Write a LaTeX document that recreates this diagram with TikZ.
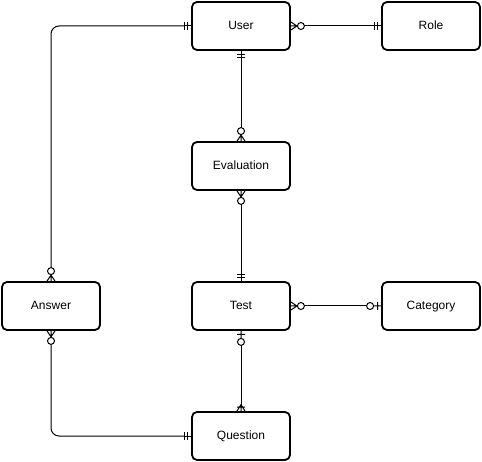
\documentclass[tikz,border=0pt]{standalone}
\usepackage{fontspec}
\setmainfont{Liberation Sans}
\usetikzlibrary{arrows.meta, positioning}

% crow's foot ends: zero-or-many, exactly one, zero-or-one, one-or-many
\pgfdeclarearrow{
  name = zmany,
  setup code = {
    \pgfarrowssettipend{0pt}
    \pgfarrowssetlineend{-13.5pt}
    \pgfarrowssetbackend{-13.5pt}
    \pgfarrowshullpoint{0pt}{4pt}
    \pgfarrowshullpoint{0pt}{-4pt}
    \pgfarrowshullpoint{-13.5pt}{0pt}
  },
  drawing code = {
    \pgfpathmoveto{\pgfqpoint{0pt}{4pt}}
    \pgfpathlineto{\pgfqpoint{-6pt}{0pt}}
    \pgfpathlineto{\pgfqpoint{0pt}{-4pt}}
    \pgfpathmoveto{\pgfqpoint{0pt}{0pt}}
    \pgfpathlineto{\pgfqpoint{-6.5pt}{0pt}}
    \pgfpathcircle{\pgfqpoint{-10pt}{0pt}}{3.5pt}
    \pgfusepathqstroke
  }
}
\pgfdeclarearrow{
  name = oneone,
  setup code = {
    \pgfarrowssettipend{0pt}
    \pgfarrowssetlineend{-7pt}
    \pgfarrowssetbackend{-7pt}
    \pgfarrowshullpoint{0pt}{4pt}
    \pgfarrowshullpoint{0pt}{-4pt}
    \pgfarrowshullpoint{-7pt}{4pt}
    \pgfarrowshullpoint{-7pt}{-4pt}
  },
  drawing code = {
    \pgfpathmoveto{\pgfqpoint{0pt}{0pt}}
    \pgfpathlineto{\pgfqpoint{-7pt}{0pt}}
    \pgfpathmoveto{\pgfqpoint{-3.5pt}{4pt}}
    \pgfpathlineto{\pgfqpoint{-3.5pt}{-4pt}}
    \pgfpathmoveto{\pgfqpoint{-7pt}{4pt}}
    \pgfpathlineto{\pgfqpoint{-7pt}{-4pt}}
    \pgfusepathqstroke
  }
}
\pgfdeclarearrow{
  name = zone,
  setup code = {
    \pgfarrowssettipend{0pt}
    \pgfarrowssetlineend{-14.5pt}
    \pgfarrowssetbackend{-14.5pt}
    \pgfarrowshullpoint{0pt}{4pt}
    \pgfarrowshullpoint{0pt}{-4pt}
    \pgfarrowshullpoint{-14.5pt}{0pt}
  },
  drawing code = {
    \pgfpathmoveto{\pgfqpoint{0pt}{0pt}}
    \pgfpathlineto{\pgfqpoint{-7.5pt}{0pt}}
    \pgfpathmoveto{\pgfqpoint{-3.5pt}{4pt}}
    \pgfpathlineto{\pgfqpoint{-3.5pt}{-4pt}}
    \pgfpathcircle{\pgfqpoint{-11pt}{0pt}}{3.5pt}
    \pgfusepathqstroke
  }
}
\pgfdeclarearrow{
  name = omany,
  setup code = {
    \pgfarrowssettipend{0pt}
    \pgfarrowssetlineend{-6.5pt}
    \pgfarrowssetbackend{-6.5pt}
    \pgfarrowshullpoint{0pt}{4pt}
    \pgfarrowshullpoint{0pt}{-4pt}
    \pgfarrowshullpoint{-6.5pt}{0pt}
  },
  drawing code = {
    \pgfpathmoveto{\pgfqpoint{0pt}{4pt}}
    \pgfpathlineto{\pgfqpoint{-6.5pt}{0pt}}
    \pgfpathlineto{\pgfqpoint{0pt}{-4pt}}
    \pgfpathmoveto{\pgfqpoint{0pt}{0pt}}
    \pgfpathlineto{\pgfqpoint{-6.5pt}{0pt}}
    \pgfpathmoveto{\pgfqpoint{-4pt}{4pt}}
    \pgfpathlineto{\pgfqpoint{-4pt}{-4pt}}
    \pgfusepathqstroke
  }
}

\begin{document}
\begin{tikzpicture}[x=1pt, y=-1pt,
    entity/.style={draw, line width=1.8pt, rounded corners=5pt,
        minimum width=98pt, minimum height=48pt,
        text height=8.6pt, text depth=2.4pt,
        font=\fontsize{12}{14}\selectfont},
    rel/.style={line width=1pt, rounded corners=8pt}]
    \useasboundingbox (0,0) rectangle (482,462);

    % entities
    \node[entity] (user) at (241,26) {User};
    \node[entity] (role) at (431,26) {Role};
    \node[entity] (evaluation) at (241,166) {Evaluation};
    \node[entity] (answer) at (51,306) {Answer};
    \node[entity] (test) at (241,306) {Test};
    \node[entity] (category) at (431,306) {Category};
    \node[entity] (question) at (241,436) {Question};

    % relations
    \draw[rel, {zmany}-{oneone}] (user) -- (role);
    \draw[rel, {oneone}-{zmany}] (user) -- (evaluation);
    \draw[rel, {zmany}-{oneone}] (evaluation) -- (test);
    \draw[rel, {zmany}-{zone}] (test) -- (category);
    \draw[rel, {zone}-{omany}] (test) -- (question);
    \draw[rel, {zmany}-{oneone}] (answer.north) |- (user.west);
    \draw[rel, {zmany}-{oneone}] (answer.south) |- (question.west);
\end{tikzpicture}
\end{document}
